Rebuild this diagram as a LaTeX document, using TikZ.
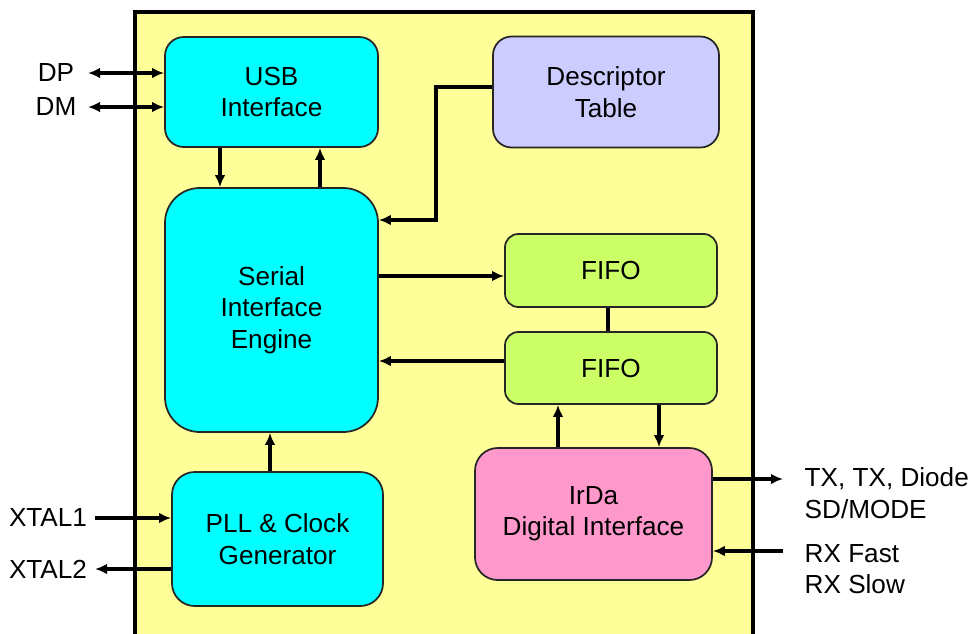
\documentclass[tikz,border=0pt]{standalone}
\usepackage{fontspec}
\setmainfont{Liberation Sans}
\usetikzlibrary{arrows.meta}
\definecolor{chipbg}{HTML}{FFFF99}
\definecolor{usbcyan}{HTML}{00FFFF}
\definecolor{descblue}{HTML}{CCCCFF}
\definecolor{fifogreen}{HTML}{CCFF66}
\definecolor{irdapink}{HTML}{FF99CC}
\newcommand{\blk}[1]{\fontsize{19.6}{23.5}\selectfont #1}

\begin{document}
\begin{tikzpicture}[x=0.75pt,y=-0.75pt,
   every node/.style={font=\blk{},align=center,text=black},
   box/.style={draw=black!85,line width=1.3pt,rounded corners=#1,inner sep=0pt},
   box/.default=14pt,
   sig/.style={line width=2.6pt,-{Latex[length=9pt,width=8pt]}},
   bisig/.style={line width=2.6pt,{Latex[length=9pt,width=8pt]}-{Latex[length=9pt,width=8pt]}},
   wire/.style={line width=2.6pt}]

 \useasboundingbox (0,0) rectangle (976,633);
 \draw[fill=chipbg,line width=3.2pt] (135,12) rectangle (753,660);

 \draw (271.5,92) node[box,fill=usbcyan,minimum width=159.75pt,minimum height=82.5pt] (USB)
              {USB\\Interface};
 \draw (606,92)   node[box,fill=descblue,minimum width=169.5pt,minimum height=83.25pt] (DESC)
              {Descriptor\\Table};
 \draw (271.5,310) node[box=26pt,fill=usbcyan,minimum width=159.75pt,minimum height=183pt] (SIE)
              {Serial\\Interface\\Engine};
 \draw (611,270.5) node[box=10pt,fill=fifogreen,minimum width=159pt,minimum height=54.75pt] (FIFOA)
              {FIFO};
 \draw (611,368)   node[box=10pt,fill=fifogreen,minimum width=159pt,minimum height=54pt] (FIFOB)
              {FIFO};
 \draw (593.5,514) node[box=17pt,fill=irdapink,minimum width=177.75pt,minimum height=99pt] (IRDA)
              {IrDa\\Digital Interface};
 \draw (277.5,539) node[box=17pt,fill=usbcyan,minimum width=158.25pt,minimum height=100.5pt] (PLL)
              {PLL \& Clock\\Generator};

 \draw (56,73)  node (DP)    {DP};
 \draw (56,107) node (DM)    {DM};
 \draw (48,518) node (XTA)   {XTAL1};
 \draw (48,569) node (XTB)   {XTAL2};
 \draw (800,493) node[anchor=west,align=left] (TX) {TX, TX, Diode\\SD/MODE};
 \draw (800,569) node[anchor=west,align=left] (RX) {RX Fast\\RX Slow};

 \coordinate (dpE)  at (88,73);
 \coordinate (dmE)  at (88,107);
 \coordinate (xtaE) at (95,518);
 \coordinate (xtbE) at (95,569);
 \coordinate (txE)  at (783,479);
 \coordinate (rxE)  at (783,551);
 \coordinate (colA) at (220,0);
 \coordinate (colB) at (320,0);
 \coordinate (colC) at (270,0);
 \coordinate (colD) at (558,0);
 \coordinate (colE) at (659,0);
 \coordinate (colF) at (608,0);
 \coordinate (rowA) at (0,276);
 \coordinate (rowB) at (0,361);
 \coordinate (bendA) at (436,87);
 \coordinate (bendB) at (436,220);

 \draw[bisig] (dpE) -- (USB.west |- dpE);
 \draw[bisig] (dmE) -- (USB.west |- dmE);
 \draw[sig] (xtaE) -- (PLL.west |- xtaE);
 \draw[sig] (PLL.west |- xtbE) -- (xtbE);

 \draw[sig] (USB.south -| colA) -- (SIE.north -| colA);
 \draw[sig] (SIE.north -| colB) -- (USB.south -| colB);
 \draw[sig] (PLL.north -| colC) -- (SIE.south -| colC);
 \draw[sig] (DESC.west |- bendA) -- (bendA) -- (bendB) -- (SIE.east |- bendB);
 \draw[sig] (SIE.east |- rowA) -- (FIFOA.west |- rowA);
 \draw[sig] (FIFOB.west |- rowB) -- (SIE.east |- rowB);
 \draw[wire] (FIFOA.south -| colF) -- (FIFOB.north -| colF);
 \draw[sig] (IRDA.north -| colD) -- (FIFOB.south -| colD);
 \draw[sig] (FIFOB.south -| colE) -- (IRDA.north -| colE);
 \draw[sig] (IRDA.east |- txE) -- (txE);
 \draw[sig] (rxE) -- (IRDA.east |- rxE);

\end{tikzpicture}
\end{document}
